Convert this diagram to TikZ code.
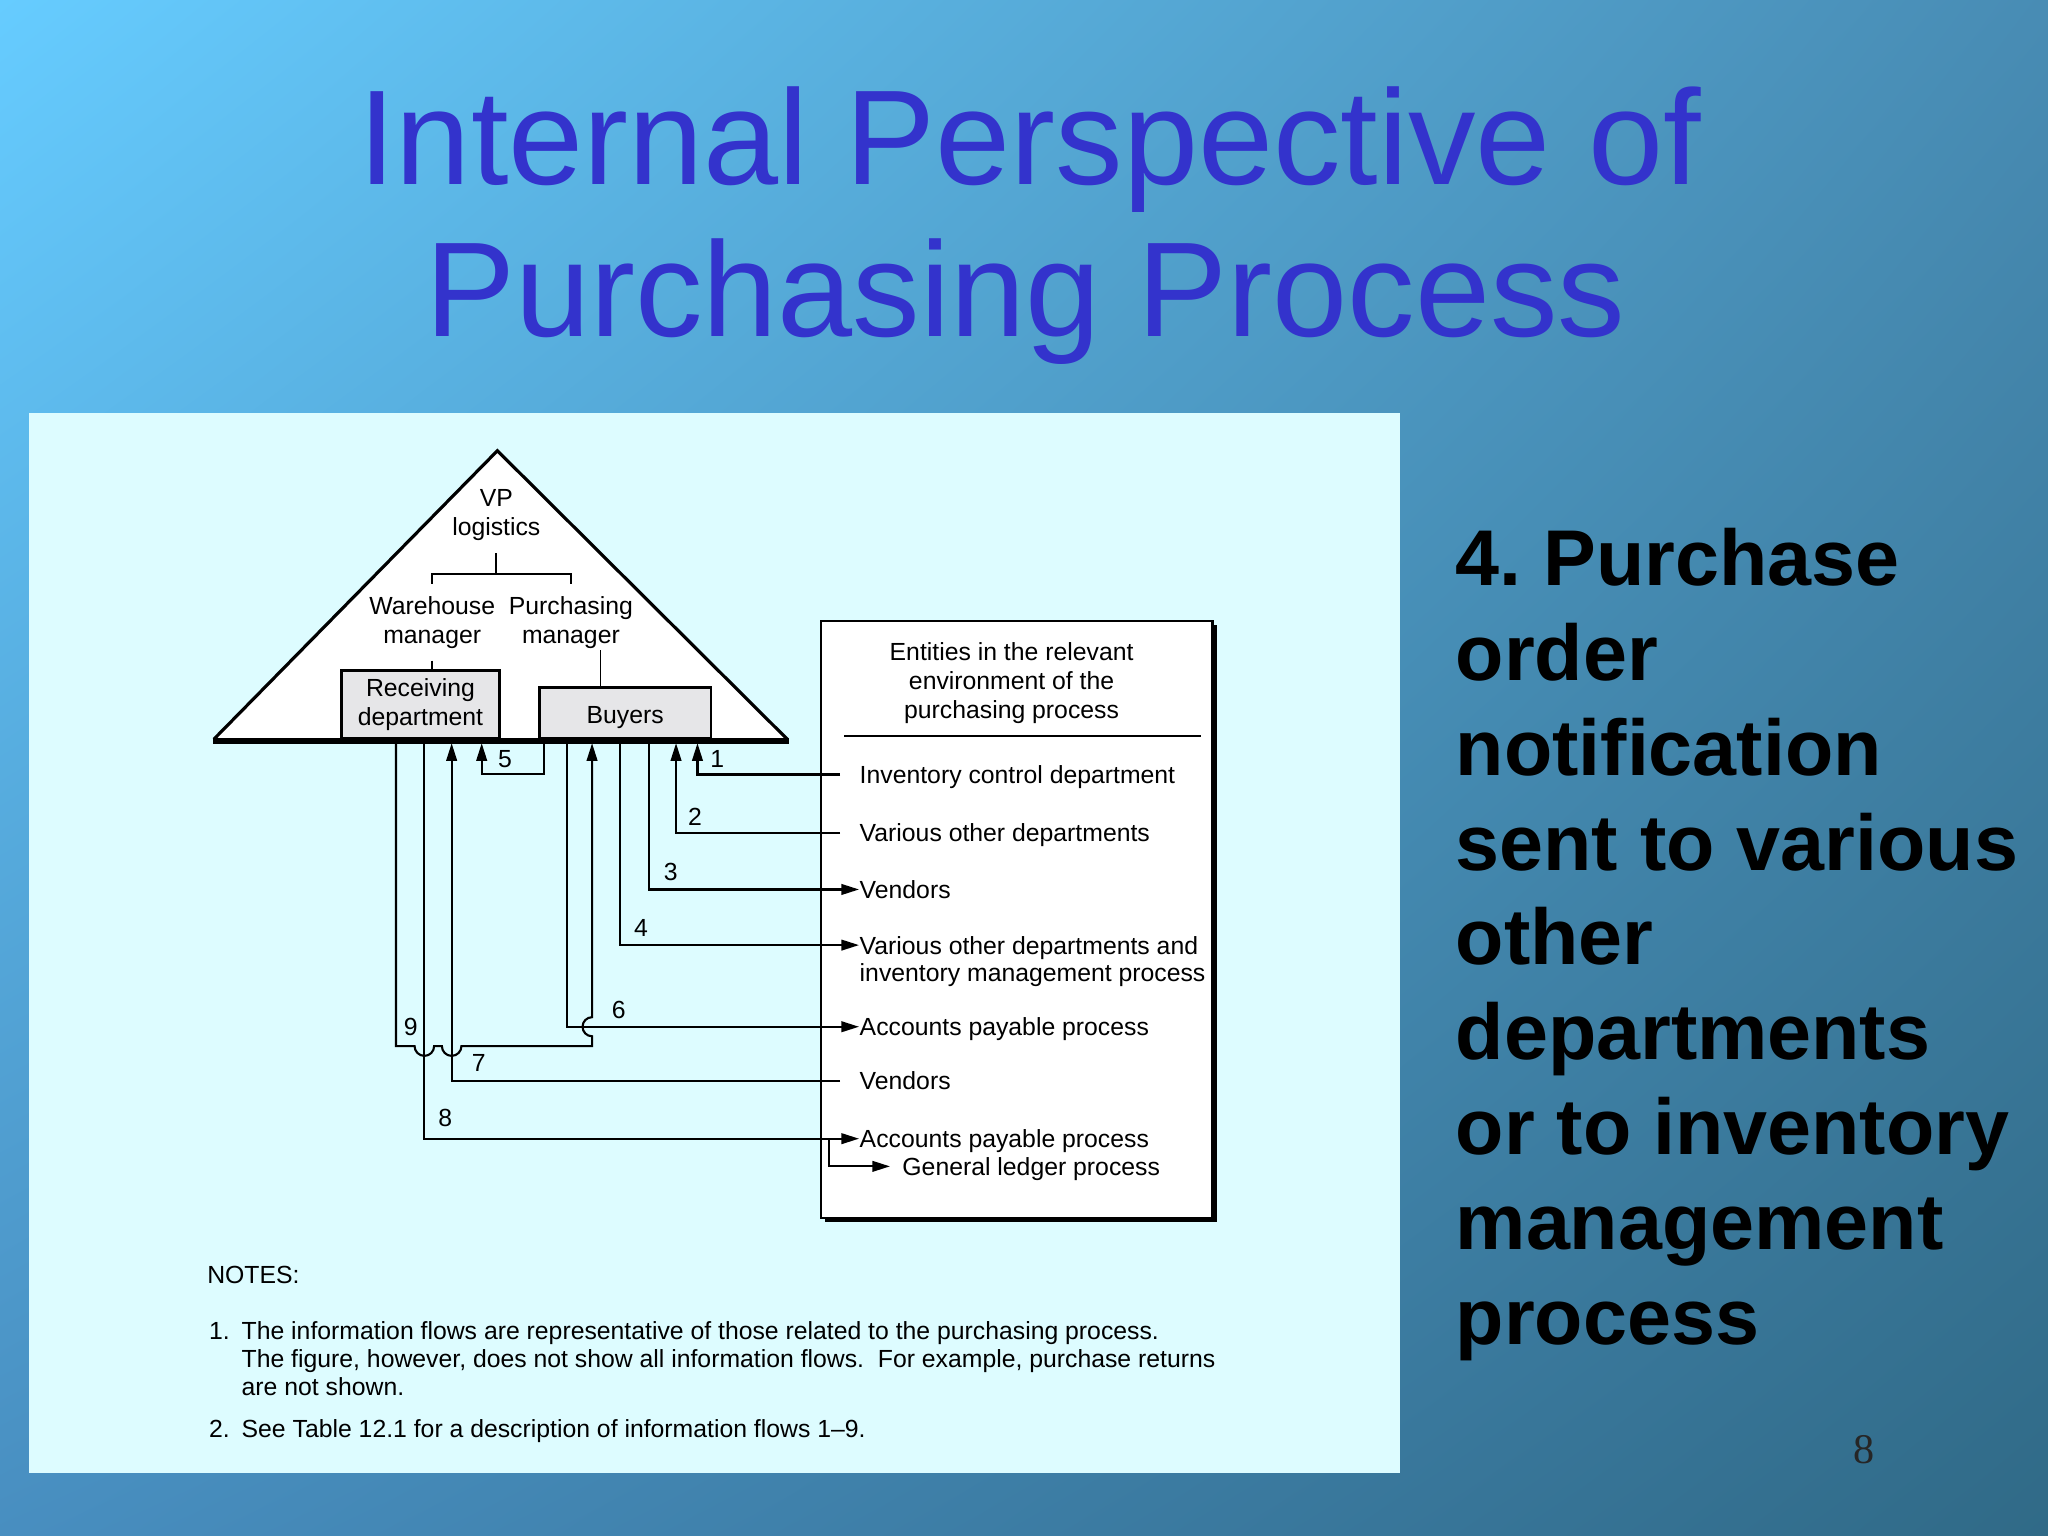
\documentclass[tikz,border=0pt]{standalone}
\usepackage{fontspec}
\setmainfont{Liberation Sans}
\newfontfamily\pagenumfont{Liberation Serif}
\usepackage{tikz}
\usetikzlibrary{arrows.meta,positioning}
\usetikzlibrary{calc}
\usetikzlibrary{shadings}
\frenchspacing

\definecolor{bgtl}{RGB}{102,204,255}
\definecolor{bgtr}{RGB}{72,140,180}
\definecolor{bgbl}{RGB}{72,142,192}
\definecolor{bgbr}{RGB}{48,106,135}
\definecolor{ttlblue}{RGB}{51,51,204}
\definecolor{panel}{RGB}{221,252,255}
\definecolor{boxgray}{RGB}{230,230,232}

\begin{document}
\begin{tikzpicture}[x=0.013061cm, y=-0.013061cm,
    >={Triangle[length=5pt,width=3pt]},
    txt/.style={font=\fontsize{7.05}{8.2}\selectfont},
    title/.style={anchor=base, inner sep=0pt, text=ttlblue, font=\fontsize{38.4}{44}\selectfont},
    point/.style={anchor=base west, inner sep=0pt, font=\fontsize{22.5}{27}\selectfont\bfseries},
    unit/.style={draw, line width=0.85pt, fill=boxgray, txt, align=center, inner sep=0pt},
    ent/.style={txt, anchor=west, inner sep=0pt, text height=6.6pt, text depth=1.5pt},
    num/.style={txt, inner sep=0pt},
    note/.style={txt, anchor=base west, inner sep=0pt},
    flow/.style={line width=0.6pt}]

            % Slide background
            \shade[upper left=bgtl, upper right=bgtr, lower left=bgbl, lower right=bgbr] (0,0) rectangle (1568,1176);
            \useasboundingbox (0,0) rectangle (1568,1176);
            \node[title] (ttla) at (788.5,140.9) {Internal Perspective of};
            \node[title] (ttlb) at (785,257.8) {Purchasing Process};
            \foreach \ln [count=\i] in {4. Purchase, order, notification, sent to various, other, departments, or to inventory, management, process}
                \node[point, name=pt\i] at (1114,{448+72.7*(\i-1)}) {\ln};
            \node[font=\pagenumfont\fontsize{12}{14}\selectfont, text=black!85] (pg) at (1427,1110) {8};

            % Figure panel
            \fill[panel] (22.2,316.2) rectangle (1072,1128);

            % Pyramid
            \filldraw[fill=white, line width=0.9pt] (163.7,566) -- (380.8,345.1) -- (602.8,566);
            \node[txt, align=center] (vp) at (380,394.5) {VP\\logistics};
            \node[txt, align=center] (wm) at (330.9,476.5) {Warehouse\\manager};
            \node[txt, align=center] (pm) at (437.1,476.5) {Purchasing\\manager};
            \coordinate (brk) at (380,439.5);
            \draw[line width=0.5pt] (vp.south) -- (brk);
            \draw[line width=0.5pt] (wm.north) |- (brk) -| (pm.north);
            \node[unit, minimum width=1.578cm, minimum height=0.683cm] (rcv) at (321.9,539.2) {Receiving\\department};
            \node[unit, minimum width=1.715cm, minimum height=0.509cm, text height=6.3pt, text depth=0pt] (byr) at (478.7,545.8) {Buyers};
            \draw[line width=0.5pt] (wm.south) -- (wm.south |- rcv.north);
            \draw[line width=0.5pt] (byr.north) ++(-19,0) -- ++(0,-27.3);
            \draw[line width=1.5pt] (163,567.3) -- (604,567.3);

            % Entities box
            \fill[black] (631.5,478.6) rectangle (931.5,935.6);
            \filldraw[fill=white, line width=0.6pt] (628.4,475.5) rectangle (928.3,932.4);
            \node[txt, align=center] (env) at (774.5,523) {Entities in the relevant\\environment of the\\purchasing process};
            \draw[flow] (646.5,563.3) -- (919.3,563.3);
            \node[ent] (inv) at (657.7,593) {Inventory control department};
            \node[ent] (vod) at (657.7,637.5) {Various other departments};
            \node[ent] (vend) at (657.7,681) {Vendors};
            \node[ent] (vodi) at (657.7,723.6) {Various other departments and};
            \node[ent] (vodib) at (657.7,744.6) {inventory management process};
            \node[ent] (ap) at (657.7,786.1) {Accounts payable process};
            \node[ent] (vend2) at (657.7,827.5) {Vendors};
            \node[ent] (ap2) at (657.7,871.8) {Accounts payable process};
            \node[ent] (gl) at (690.4,893) {General ledger process};

            % Taps under the pyramid
            \coordinate (rc9) at (303.2,569);
            \coordinate (rc8) at (324.9,569);
            \coordinate (rc7) at (345.8,569);
            \coordinate (rc5) at (368.8,569);
            \coordinate (by5) at (416.5,569);
            \coordinate (by6) at (434.4,569);
            \coordinate (by9) at (453.3,569);
            \coordinate (by4) at (474.7,569);
            \coordinate (by3) at (497.2,569);
            \coordinate (by2) at (517.6,569);
            \coordinate (by1) at (534,569);
            \coordinate (e1) at ($(inv.west)+(-14.5,0)$);
            \coordinate (e2) at ($(vod.west)+(-14.5,0)$);
            \coordinate (e7) at ($(vend2.west)+(-14.5,0)$);
            \coordinate (brg) at (634.8,871.8);

            % Information flows
            \draw[flow,->] (e1) -| (by1);
            \draw[flow,->] (e2) -| (by2);
            \draw[flow,->] (by3) |- (vend.west);
            \draw[flow,->] (by4) |- (vodi.west);
            \draw[flow,->] (by5) -- ++(0,23.9) -| (rc5);
            \draw[flow,->] (by6) |- (ap.west);
            \draw[flow,->] (e7) -| (rc7);
            \draw[flow,->] (rc8) |- (ap2.west);
            \draw[flow,->] (brg) |- ($(gl.west)+(-9,0)$);
            \draw[flow,->] (rc9) -- (303.2,800.9) -- (317.4,800.9) arc[start angle=180, end angle=0, radius=7.5]
                -- (338.3,800.9) arc[start angle=180, end angle=0, radius=7.5]
                -- (453.3,800.9) -- (453.3,793.4) arc[start angle=90, end angle=270, radius=7.3] -- (by9);
            \node[num] (l1) at (549.2,581.4) {1};
            \node[num] (l2) at (532.2,625.3) {2};
            \node[num] (l3) at (513.5,667.4) {3};
            \node[num] (l4) at (490.8,710.8) {4};
            \node[num] (l5) at (386.7,581.4) {5};
            \node[num] (l6) at (473.7,773.4) {6};
            \node[num] (l7) at (366.5,814.2) {7};
            \node[num] (l8) at (341,856.3) {8};
            \node[num] (l9) at (314.5,786.1) {9};

            % Notes
            \node[note] (notes) at (158.2,982.7) {NOTES:};
            \node[note] (n1) at (159.5,1025.3) {1.};
            \node[note] (n1a) at (184.5,1025.3) {The information flows are representative of those related to the purchasing process.};
            \node[note] (n1b) at (184.5,1047.2) {The figure, however, does not show all information flows.\ \ For example, purchase returns};
            \node[note] (n1c) at (184.5,1068.2) {are not shown.};
            \node[note] (n2) at (159.5,1100.6) {2.};
            \node[note] (n2a) at (184.5,1100.6) {See Table 12.1 for a description of information flows 1--9.};
        \end{tikzpicture}
\end{document}
